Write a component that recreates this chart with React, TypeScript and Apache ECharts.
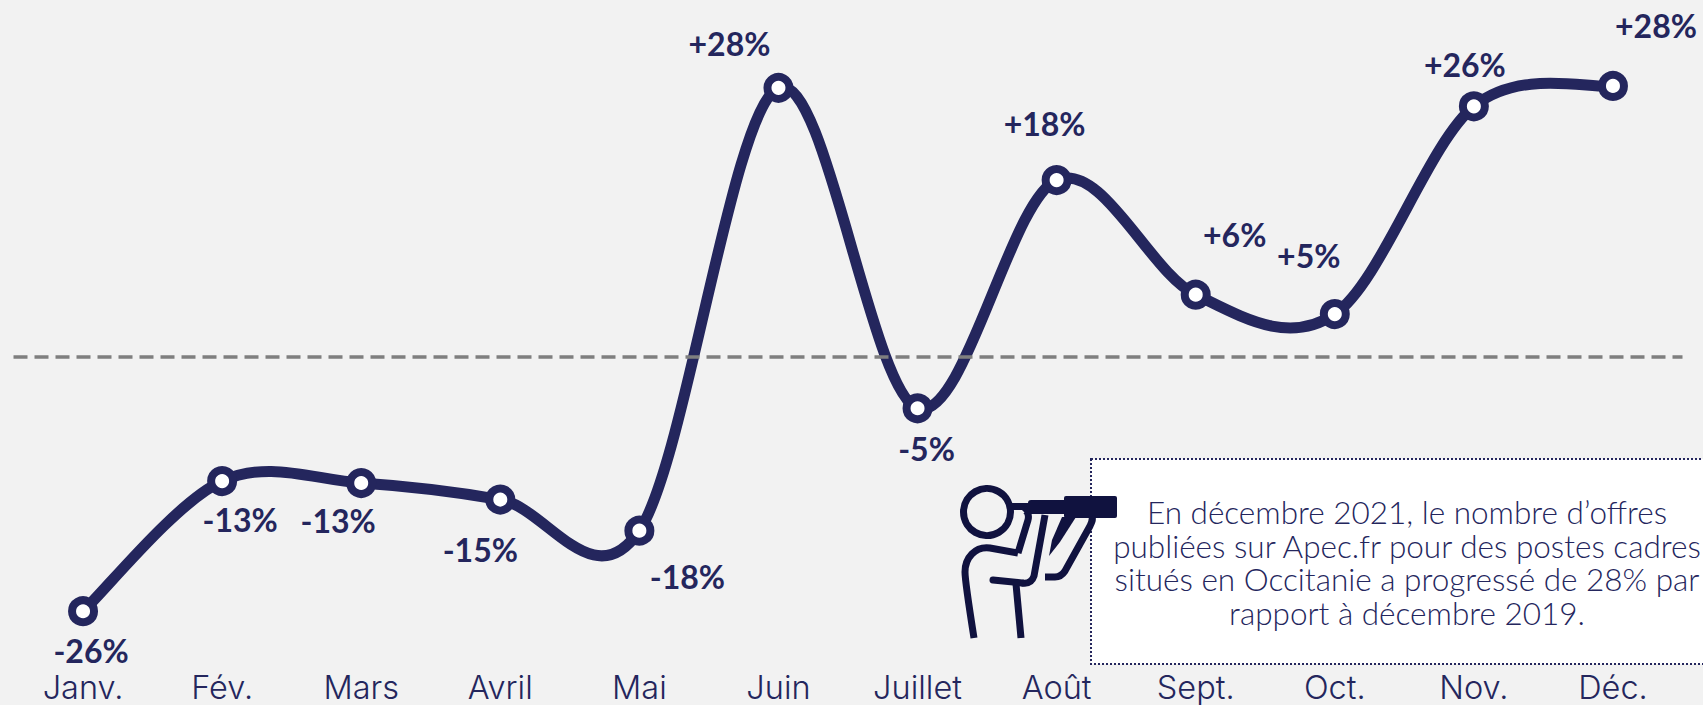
import React, { useEffect, useRef } from "react";
import * as echarts from "echarts";

const categories = ["Janv.", "Fév.", "Mars", "Avril", "Mai", "Juin", "Juillet", "Août", "Sept.", "Oct.", "Nov.", "Déc."];
const values = [-26.2, -12.8, -13, -14.7, -17.9, 27.7, -5.3, 18.2, 6.4, 4.4, 25.8, 27.9];
const valueLabels = ["-26%", "-13%", "-13%", "-15%", "-18%", "+28%", "-5%", "+18%", "+6%", "+5%", "+26%", "+28%"];
const labelOffsets = [[8, 39], [18, 38], [-23, 37], [-20, 50], [48, 46], [-49, -44], [9, 40], [-12, -57], [39, -60], [-26, -59], [-9, -42], [43, -60]];

const note = "En décembre 2021, le nombre d’offres\npubliées sur Apec.fr pour des postes cadres\nsitués en Occitanie a progressé de 28% par\nrapport à décembre 2019.";

const NAVY = "#24265d";
const ICON = "#10123f";
const FONT = "'Lato', 'Noto Sans', sans-serif";
const AXIS_FONT = "'Inter', 'Lato', sans-serif";

echarts.graphic.registerShape(
  "iconBody",
  echarts.graphic.extendPath(
    "M1018 553 L990 548 C975 546 965 558 965 572 C965 580 968 600 974 638 " +
      "M1018 553 L1028 520 C1030 512 1024 508 1022 510 " +
      "M1045 515 L1034 576 C1032 582 1028 584 1022 583 " +
      "M1016 584 L1021 638 " +
      "M1045 577 L1055 577 C1060 577 1063 574 1065 571 L1090 526 C1092 522 1093 520 1092 516",
    {}
  )
);
echarts.graphic.registerShape(
  "iconForearm",
  echarts.graphic.extendPath("M993 580 L1022 583", {})
);
echarts.graphic.registerShape(
  "iconTaper",
  echarts.graphic.extendPath("M1049 556 L1052 540 L1062 517 L1076 517 L1060 542 Z", {})
);

export default function App() {
  const ref = useRef<HTMLDivElement>(null);
  useEffect(() => {
    const chart = echarts.init(ref.current!, null, { renderer: "svg" });
    const st = { stroke: ICON, lineWidth: 7, fill: "none" };
    chart.setOption({
      animation: false,
      backgroundColor: "#f2f2f2",
      grid: { left: 13.5, right: 20.5, top: 0, bottom: 0 },
      xAxis: {
        type: "category",
        data: categories,
        boundaryGap: true,
        position: "bottom",
        axisLine: { show: false },
        axisTick: { show: false },
        axisLabel: { color: NAVY, fontSize: 32.5, fontFamily: AXIS_FONT, fontWeight: 300, inside: true, margin: -3, verticalAlign: "bottom", lineHeight: 36 },
      },
      yAxis: {
        type: "value",
        min: -35.55,
        max: 36.75,
        axisLine: { show: false },
        axisTick: { show: false },
        axisLabel: { show: false },
        splitLine: { show: false },
      },
      series: [
        {
          type: "custom",
          coordinateSystem: "cartesian2d",
          clip: false,
          z: 2,
          silent: true,
          encode: { x: 0, y: 1 },
          data: values.map((v, i) => [i, v]),
          renderItem: (params: any, api: any) => {
            const i = params.dataIndex;
            if (i >= values.length - 1) return null;
            const pt = (k: number) => {
              const j = Math.max(0, Math.min(values.length - 1, k));
              return api.coord([j, values[j]]);
            };
            const p0 = pt(i - 1), p1 = pt(i), p2 = pt(i + 1), p3 = pt(i + 2);
            return {
              type: "bezierCurve",
              shape: {
                x1: p1[0], y1: p1[1],
                x2: p2[0], y2: p2[1],
                cpx1: p1[0] + (p2[0] - p0[0]) / 6,
                cpy1: p1[1] + (p2[1] - p0[1]) / 6,
                cpx2: p2[0] - (p3[0] - p1[0]) / 6,
                cpy2: p2[1] - (p3[1] - p1[1]) / 6,
              },
              style: { stroke: NAVY, lineWidth: 11, fill: "none", lineCap: "round" },
            };
          },
        },
        {
          type: "line",
          data: values,
          symbol: "circle",
          symbolSize: 22,
          itemStyle: { color: "#ffffff", borderColor: NAVY, borderWidth: 8 },
          lineStyle: { width: 0, opacity: 0 },
          label: {
            show: true,
            position: "inside",
            color: NAVY,
            fontSize: 32,
            fontWeight: 700,
            fontFamily: FONT,
            formatter: (p: any) => valueLabels[p.dataIndex],
          },
          labelLayout: (p: any) => ({
            dx: labelOffsets[p.dataIndex][0],
            dy: labelOffsets[p.dataIndex][1],
          }),
          markLine: {
            silent: true,
            symbol: "none",
            label: { show: false },
            lineStyle: { color: "#7f7f7f", type: "dashed", width: 3.5 },
            data: [{ yAxis: 0 }],
          },
          z: 3,
        },
      ],
      graphic: [
        { type: "rect", shape: { x: 1091, y: 459, width: 620, height: 205 }, style: { fill: "#ffffff", stroke: NAVY, lineWidth: 2, lineDash: [2, 2] }, z: 1 },
        { type: "text", x: 1407, y: 562.5, z: 2, style: { text: note, fill: NAVY, font: `300 31.5px ${FONT}`, lineHeight: 33.5, align: "center", verticalAlign: "middle" } },
        { type: "circle", shape: { cx: 987, cy: 512, r: 23.5 }, style: { fill: "none", stroke: ICON, lineWidth: 7 }, z: 4 },
        { type: "rect", shape: { x: 1010, y: 503, width: 20, height: 7 }, style: { fill: ICON }, z: 4 },
        { type: "rect", shape: { x: 1028, y: 500, width: 40, height: 14, r: 3 }, style: { fill: ICON }, z: 4 },
        { type: "rect", shape: { x: 1064, y: 496, width: 53, height: 22, r: 2 }, style: { fill: ICON }, z: 4 },
        { type: "iconBody", x: 0, y: 0, style: st, z: 4 },
        { type: "iconForearm", x: 0, y: 0, style: { ...st, lineCap: "round" }, z: 4 },
        { type: "iconTaper", x: 0, y: 0, style: { fill: ICON }, z: 4 },
      ],
    });
    return () => chart.dispose();
  }, []);
  return <div ref={ref} style={{ position: "fixed", left: 0, top: 0, width: 1703, height: 705 }} />;
}
